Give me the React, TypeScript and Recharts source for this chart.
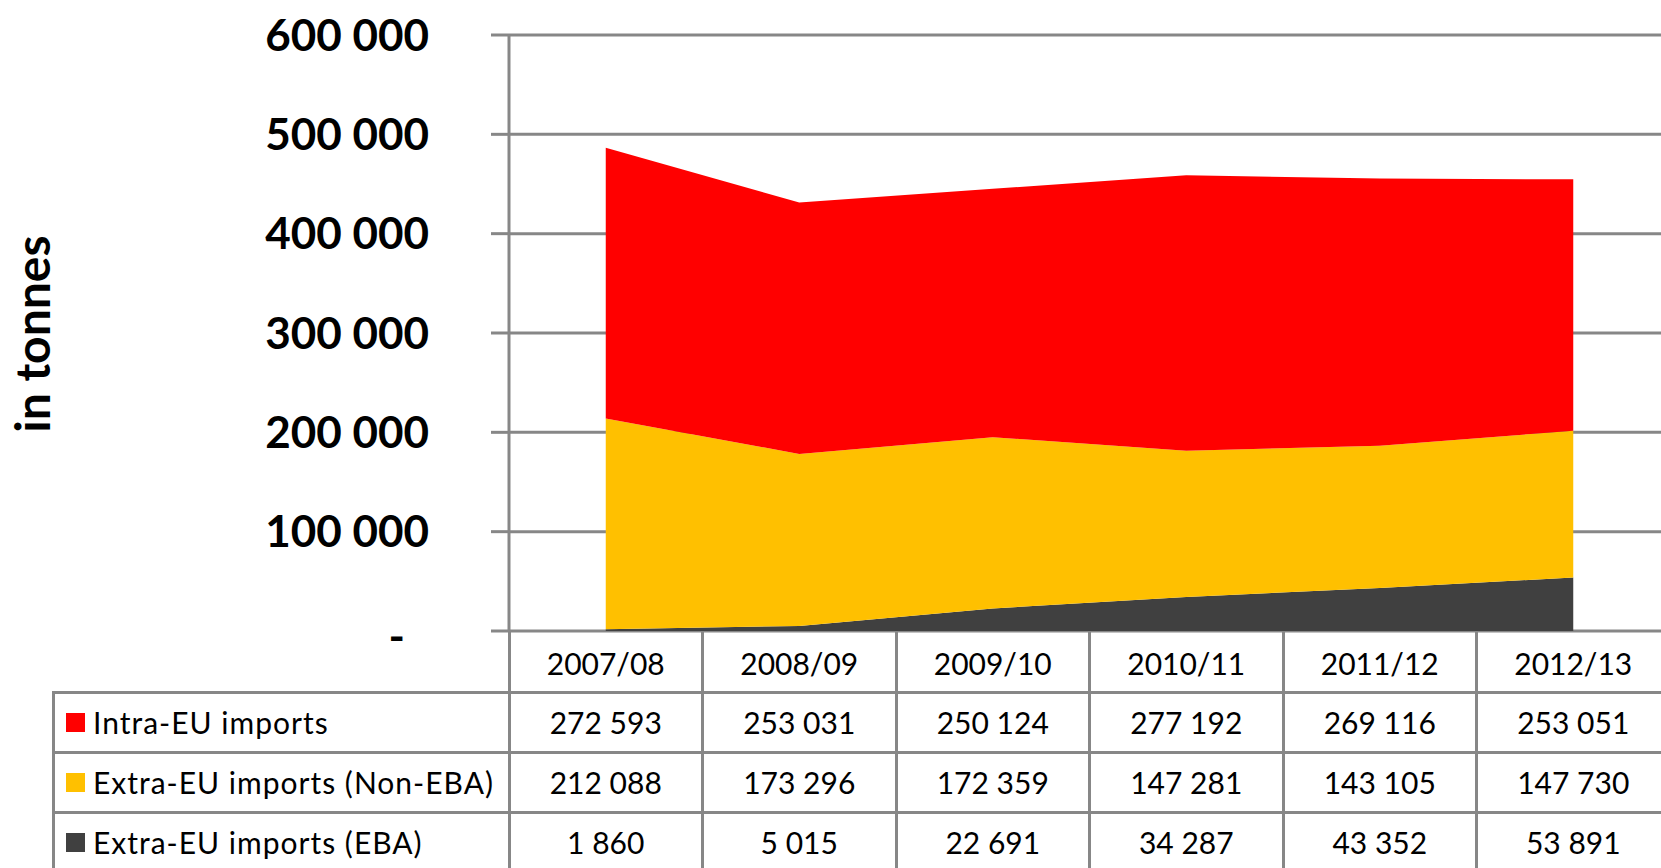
import { AreaChart, Area, XAxis, YAxis, CartesianGrid } from "recharts";

const categories = ["2007/08", "2008/09", "2009/10", "2010/11", "2011/12", "2012/13"];
const intraEU = [272593, 253031, 250124, 277192, 269116, 253051];
const extraNonEBA = [212088, 173296, 172359, 147281, 143105, 147730];
const extraEBA = [1860, 5015, 22691, 34287, 43352, 53891];
const yTicks = [0, 100000, 200000, 300000, 400000, 500000, 600000];

const series = [
  { key: "intra", name: "Intra-EU imports", values: intraEU, color: "#ff0000" },
  { key: "nonEba", name: "Extra-EU imports (Non-EBA)", values: extraNonEBA, color: "#ffc000" },
  { key: "eba", name: "Extra-EU imports (EBA)", values: extraEBA, color: "#404040" },
];

const data = categories.map((c, i) => ({
  cat: c,
  intra: intraEU[i],
  nonEba: extraNonEBA[i],
  eba: extraEBA[i],
}));

const GRID = "#878787";
const FONT = "Lato, 'Open Sans', sans-serif";
const LINE = 3;

const PLOT_LEFT = 509;
const COL_W = 193.5;
const PLOT_TOP = 35;
const PLOT_BOTTOM = 631;
const HEADER_H = 61;
const ROW_H = 60;
const TABLE_LEFT = 53;
const CHART_W = PLOT_LEFT + COL_W * categories.length;
const PAGE_W = 1661;
const PAGE_H = 868;

const fmt = (v: number) => String(v).replace(/\B(?=(\d{3})+(?!\d))/g, " ");

function YTick(props: any) {
  const { x, y, payload } = props;
  const zero = payload.value === 0;
  return (
    <text
      x={x - (zero ? 24 : 0)}
      y={y + (zero ? 5 : 0)}
      dy="0.355em"
      textAnchor="end"
      fontSize={44}
      fontWeight={700}
      fontFamily={FONT}
      fill="#000"
    >
      {zero ? "-" : fmt(payload.value)}
    </text>
  );
}

const cellText: React.CSSProperties = {
  position: "absolute",
  display: "flex",
  alignItems: "center",
  justifyContent: "center",
  fontSize: 30,
  fontFamily: FONT,
  color: "#000",
  whiteSpace: "nowrap",
};

export default function App() {
  const rowsTop = PLOT_BOTTOM + HEADER_H;
  const lines: React.ReactNode[] = [];

  // horizontal table rules
  series.forEach((_, r) => {
    lines.push(
      <div
        key={"h" + r}
        style={{
          position: "absolute",
          left: TABLE_LEFT - LINE / 2,
          top: rowsTop + r * ROW_H - LINE / 2,
          width: CHART_W - TABLE_LEFT + LINE,
          height: LINE,
          background: GRID,
        }}
      />
    );
  });
  // vertical table rules
  lines.push(
    <div
      key="vl"
      style={{
        position: "absolute",
        left: TABLE_LEFT - LINE / 2,
        top: rowsTop,
        width: LINE,
        height: PAGE_H - rowsTop,
        background: GRID,
      }}
    />
  );
  for (let i = 0; i <= categories.length; i++) {
    lines.push(
      <div
        key={"v" + i}
        style={{
          position: "absolute",
          left: PLOT_LEFT + i * COL_W - LINE / 2,
          top: PLOT_BOTTOM,
          width: LINE,
          height: PAGE_H - PLOT_BOTTOM,
          background: GRID,
        }}
      />
    );
  }

  return (
    <div
      style={{
        position: "absolute",
        left: 0,
        top: 0,
        width: PAGE_W,
        height: PAGE_H,
        overflow: "hidden",
        background: "#fff",
      }}
    >
      <div style={{ position: "absolute", left: 0, top: 0 }}>
        <AreaChart
          width={CHART_W}
          height={PLOT_BOTTOM + 40}
          data={data}
          margin={{ top: PLOT_TOP, right: 0, left: 0, bottom: 40 }}
        >
          <CartesianGrid vertical={false} stroke={GRID} strokeWidth={LINE} />
          <XAxis
            dataKey="cat"
            hide
            padding={{ left: COL_W / 2, right: COL_W / 2 }}
          />
          <YAxis
            width={PLOT_LEFT}
            domain={[0, 600000]}
            ticks={yTicks}
            interval={0}
            axisLine={{ stroke: GRID, strokeWidth: LINE }}
            tickLine={{ stroke: GRID, strokeWidth: LINE }}
            tickSize={18}
            tickMargin={62}
            tick={<YTick />}
          />
          <Area
            type="linear"
            dataKey="eba"
            stackId="1"
            stroke="none"
            fill="#404040"
            fillOpacity={1}
            isAnimationActive={false}
          />
          <Area
            type="linear"
            dataKey="nonEba"
            stackId="1"
            stroke="none"
            fill="#ffc000"
            fillOpacity={1}
            isAnimationActive={false}
          />
          <Area
            type="linear"
            dataKey="intra"
            stackId="1"
            stroke="none"
            fill="#ff0000"
            fillOpacity={1}
            isAnimationActive={false}
          />
        </AreaChart>
      </div>

      <div
        style={{
          position: "absolute",
          left: 31,
          top: 334,
          transform: "translate(-50%, -50%) rotate(-90deg)",
          fontSize: 48,
          fontWeight: 700,
          fontFamily: FONT,
          whiteSpace: "nowrap",
          color: "#000",
        }}
      >
        in tonnes
      </div>

      {lines}

      {categories.map((c, i) => (
        <div
          key={"hd" + i}
          style={{
            ...cellText,
            left: PLOT_LEFT + i * COL_W,
            top: PLOT_BOTTOM + 1,
            width: COL_W,
            height: HEADER_H,
          }}
        >
          {c}
        </div>
      ))}

      {series.map((s, r) => (
        <div key={s.key}>
          <div
            style={{
              ...cellText,
              justifyContent: "flex-start",
              left: TABLE_LEFT + 13,
              top: rowsTop + r * ROW_H,
              height: ROW_H,
              letterSpacing: 1,
            }}
          >
            <span
              style={{
                display: "inline-block",
                width: 19,
                height: 19,
                background: s.color,
                marginRight: 8,
              }}
            />
            {s.name}
          </div>
          {s.values.map((v, i) => (
            <div
              key={i}
              style={{
                ...cellText,
                left: PLOT_LEFT + i * COL_W,
                top: rowsTop + r * ROW_H,
                width: COL_W,
                height: ROW_H,
              }}
            >
              {fmt(v)}
            </div>
          ))}
        </div>
      ))}
    </div>
  );
}
